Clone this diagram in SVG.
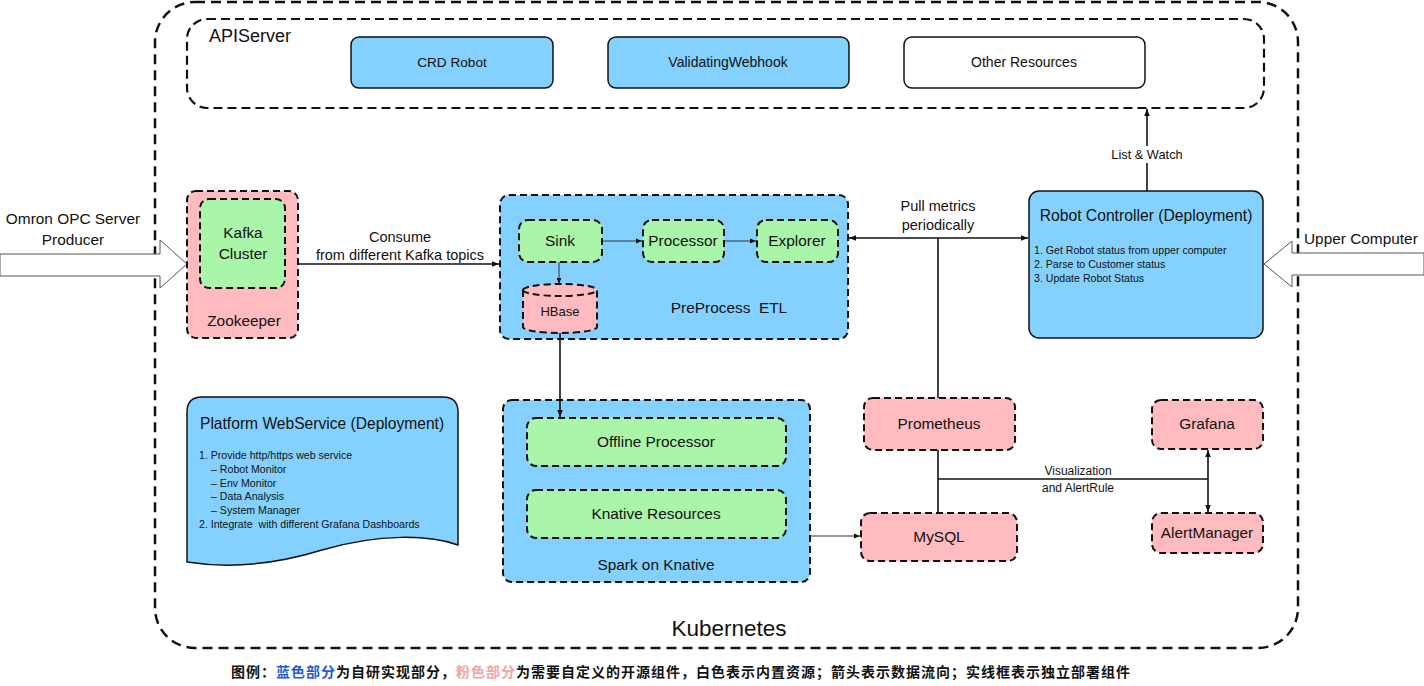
<svg xmlns="http://www.w3.org/2000/svg" width="1424" height="686" viewBox="0 0 1424 686">
<defs>
<style>
text{font-family:"Liberation Sans",Arial,"Noto Sans CJK SC",sans-serif;fill:#111}
.blue{fill:#84D1FF}
.pink{fill:#FFBBBF}
.green{fill:#A9F5A9}
.dash{stroke:#111;stroke-width:2;stroke-dasharray:7 4}
.solid{stroke:#111;stroke-width:1.5}
.line{stroke:#111;stroke-width:1.6;fill:none}
.thin{stroke:#333;stroke-width:1;fill:none}
.c{text-anchor:middle}
.t13{font-size:15.4px}
.t12{font-size:14.5px}
.ta{font-size:14px}
.t10{font-size:10.6px}
</style>
<marker id="ah" viewBox="0 0 10 10" refX="10" refY="5" markerWidth="7" markerHeight="7" orient="auto-start-reverse" markerUnits="userSpaceOnUse">
<path d="M0,1 L10,5 L0,9 Z" fill="#111"/>
</marker>
<marker id="ahs" viewBox="0 0 10 10" refX="10" refY="5" markerWidth="6" markerHeight="6" orient="auto-start-reverse" markerUnits="userSpaceOnUse">
<path d="M0,1 L10,5 L0,9 Z" fill="#111"/>
</marker>
</defs>
<rect width="1424" height="686" fill="#fff"/>

<g id="kubernetes">
<rect x="155" y="2" width="1143" height="646" rx="40" fill="none" stroke="#111" stroke-width="2.5" stroke-dasharray="10 6"/>
<text x="729" y="636" class="c" font-size="22.5">Kubernetes</text>
</g>

<g id="apiserver">
<rect x="187" y="19" width="1077" height="89" rx="20" fill="none" stroke="#111" stroke-width="2.2" stroke-dasharray="9 5"/>
<text x="209" y="42" font-size="18">APIServer</text>
</g>
<g id="crd-robot">
<rect x="351" y="37" width="202" height="51" rx="8" class="blue solid"/>
<text x="452" y="67" class="c" font-size="13.6">CRD Robot</text>
</g>
<g id="validating-webhook">
<rect x="608" y="37" width="241" height="51" rx="8" class="blue solid"/>
<text x="728" y="67" class="c ta">ValidatingWebhook</text>
</g>
<g id="other-resources">
<rect x="904" y="37" width="241" height="51" rx="8" fill="#fff" class="solid"/>
<text x="1024" y="67" class="c ta">Other Resources</text>
</g>

<g id="omron-producer">
<path d="M0,254 H160 V240 L187,264 L160,288 V276 H0 Z" fill="#fff" stroke="#555" stroke-width="1"/>
<text x="73" y="224" class="c t13">Omron OPC Server</text>
<text x="73" y="245" class="c t13">Producer</text>
</g>

<g id="zookeeper">
<rect x="187" y="191" width="111" height="147" rx="9" class="pink dash"/>
<text x="244" y="326" class="c t13">Zookeeper</text>
</g>
<g id="kafka-cluster">
<rect x="200" y="199" width="85" height="89" rx="9" class="green dash"/>
<text x="243" y="238" class="c t13">Kafka</text>
<text x="243" y="259" class="c t13">Cluster</text>
</g>

<g id="preprocess-etl">
<rect x="500" y="195" width="348" height="144" rx="9" class="blue dash"/>
<text x="729" y="313" class="c t13">PreProcess&#160;&#160;ETL</text>
</g>
<g id="sink">
<rect x="519" y="220" width="83" height="42" rx="9" class="green dash"/>
<text x="560" y="246" class="c t13">Sink</text>
</g>
<g id="processor">
<rect x="643" y="220" width="81" height="42" rx="9" class="green dash"/>
<text x="683" y="246" class="c t13">Processor</text>
</g>
<g id="explorer">
<rect x="757" y="220" width="81" height="42" rx="9" class="green dash"/>
<text x="797" y="246" class="c t13">Explorer</text>
</g>
<g id="hbase">
<path d="M523,290 A37,6 0 0 1 597,290 V327 A37,6 0 0 1 523,327 Z" class="pink dash"/>
<path d="M523,290 A37,6 0 0 0 597,290" fill="none" class="dash"/>
<text x="560" y="316" class="c" font-size="13" fill="#222">HBase</text>
</g>

<g id="robot-controller">
<rect x="1029" y="191" width="234" height="147" rx="10" class="blue solid"/>
<text x="1146" y="221" class="c" font-size="15.7">Robot Controller (Deployment)</text>
<text x="1034" y="254" class="t10">1. Get Robot status from upper computer</text>
<text x="1034" y="268" class="t10">2. Parse to Customer status</text>
<text x="1034" y="282" class="t10">3. Update Robot Status</text>
</g>

<g id="upper-computer">
<path d="M1424,253 H1292 V241 L1264,264 L1292,287 V275 H1424 Z" fill="#fff" stroke="#555" stroke-width="1"/>
<text x="1304" y="244" font-size="15.4">Upper Computer</text>
</g>

<g id="platform-webservice">
<path d="M187,412 Q187,397 202,397 H443 Q458,397 458,412 V545 C430,535 380,533 322,550 C270,566 225,568 187,562 Z" class="blue solid"/>
<text x="200" y="429" font-size="15.6">Platform WebService (Deployment)</text>
<text x="199" y="459" class="t10">1. Provide http/https web service</text>
<text x="211" y="473" class="t10">– Robot Monitor</text>
<text x="211" y="487" class="t10">– Env Monitor</text>
<text x="211" y="500" class="t10">– Data Analysis</text>
<text x="211" y="514" class="t10">– System Manager</text>
<text x="199" y="528" class="t10">2. Integrate&#160; with different Grafana Dashboards</text>
</g>

<g id="spark-on-knative">
<rect x="503" y="400" width="307" height="182" rx="9" class="blue dash"/>
<text x="656" y="570" class="c t13">Spark on Knative</text>
</g>
<g id="offline-processor">
<rect x="527" y="418" width="259" height="48" rx="9" class="green dash"/>
<text x="656" y="447" class="c t13">Offline Processor</text>
</g>
<g id="knative-resources">
<rect x="527" y="490" width="259" height="48" rx="9" class="green dash"/>
<text x="656" y="519" class="c t13">Knative Resources</text>
</g>

<g id="prometheus">
<rect x="864" y="398" width="151" height="52" rx="9" class="pink dash"/>
<text x="939" y="429" class="c t13">Prometheus</text>
</g>
<g id="mysql">
<rect x="861" y="513" width="156" height="48" rx="9" class="pink dash"/>
<text x="939" y="542" class="c t13">MySQL</text>
</g>
<g id="grafana">
<rect x="1152" y="400" width="111" height="49" rx="9" class="pink dash"/>
<text x="1207" y="429" class="c t13">Grafana</text>
</g>
<g id="alertmanager">
<rect x="1152" y="513" width="111" height="40" rx="9" class="pink dash"/>
<text x="1207" y="538" class="c t13">AlertManager</text>
</g>

<g id="connectors">
<line x1="1147" y1="191" x2="1147" y2="109" class="line" marker-end="url(#ah)"/>
<rect x="1106" y="146" width="82" height="17" fill="#fff"/>
<text x="1147" y="159" class="c" font-size="12.8">List &amp; Watch</text>

<line x1="298" y1="264" x2="499" y2="264" class="line" marker-end="url(#ah)"/>
<text x="400" y="242" class="c t12">Consume</text>
<text x="400" y="260" class="c t12">from different Kafka topics</text>

<line x1="602" y1="241" x2="642" y2="241" class="thin" marker-end="url(#ahs)"/>
<line x1="724" y1="241" x2="756" y2="241" class="thin" marker-end="url(#ahs)"/>
<line x1="559" y1="262" x2="559" y2="284" class="thin" marker-end="url(#ahs)"/>

<line x1="849" y1="238" x2="1028" y2="238" class="line" marker-start="url(#ah)" marker-end="url(#ah)"/>
<text x="938" y="211" class="c t12">Pull metrics</text>
<text x="938" y="230" class="c t12">periodically</text>
<line x1="938" y1="238" x2="938" y2="398" class="line"/>

<line x1="560" y1="333" x2="560" y2="417" class="line" marker-end="url(#ah)"/>

<line x1="810" y1="536" x2="860" y2="536" class="thin" marker-end="url(#ahs)"/>

<line x1="938" y1="450" x2="938" y2="513" class="line"/>
<line x1="938" y1="479" x2="1208" y2="479" class="line"/>
<text x="1078" y="475" class="c" font-size="12">Visualization</text>
<text x="1078" y="492" class="c" font-size="12">and AlertRule</text>
<line x1="1208" y1="450" x2="1208" y2="512" class="line" marker-start="url(#ah)" marker-end="url(#ah)"/>
</g>

<g id="legend">
<text x="231" y="677" font-size="14" letter-spacing="1" font-weight="bold" style="font-family:'Noto Sans CJK SC','Liberation Sans',sans-serif">图例：<tspan style="fill:#1E5BD8">蓝色部分</tspan>为自研实现部分，<tspan style="fill:#F4A3A8">粉色部分</tspan>为需要自定义的开源组件，白色表示内置资源；箭头表示数据流向；实线框表示独立部署组件</text>
</g>
</svg>
